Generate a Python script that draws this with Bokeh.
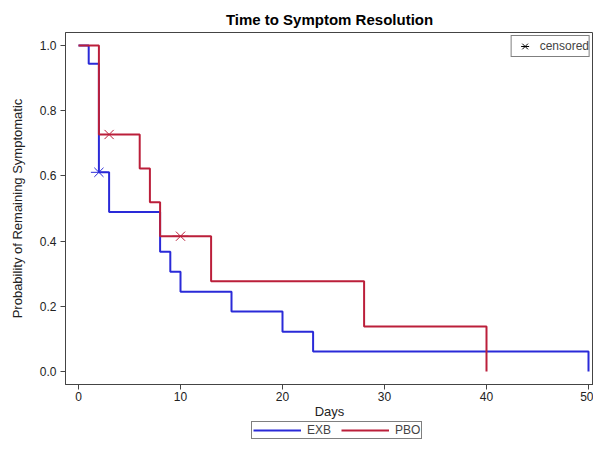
from bokeh.plotting import figure
from bokeh.layouts import column
from bokeh.models import Legend, LegendItem, Range1d, FixedTicker, PrintfTickFormatter
from bokeh.embed import file_html
from bokeh.resources import INLINE

# EXB (blue) Kaplan-Meier steps
exb_time = [0, 1, 2, 3, 8, 9, 10, 15, 20, 23, 50]
exb_surv = [1.0, 0.944, 0.611, 0.489, 0.367, 0.306, 0.245, 0.184, 0.122, 0.061, 0.0]
exb_cens_time = [2]
exb_cens_surv = [0.611]

# PBO (red) Kaplan-Meier steps
pbo_time = [0, 2, 6, 7, 8, 13, 28, 40]
pbo_surv = [1.0, 0.727, 0.623, 0.519, 0.415, 0.277, 0.138, 0.0]
pbo_cens_time = [3, 10]
pbo_cens_surv = [0.727, 0.415]

groups = ["EXB", "PBO"]
x_ticks = [0, 10, 20, 30, 40, 50]
y_ticks = [0.0, 0.2, 0.4, 0.6, 0.8, 1.0]

BLUE = "#2a2ad8"
RED = "#bb1f3a"
FONT = "Liberation Sans"

p = figure(width=593, height=421, output_backend="svg", toolbar_location=None,
           x_range=Range1d(-1.275, 50.49), y_range=Range1d(-0.0399, 1.0399),
           min_border_left=65, min_border_right=0, min_border_top=32, min_border_bottom=37)

p.title.text = "Time to Symptom Resolution"
p.title.align = "center"
p.title.text_font = FONT
p.title.text_font_size = "15px"
p.title.text_font_style = "bold"
p.title.text_color = "black"
p.title.offset = 0
p.title.standoff = 10

p.grid.visible = False
p.outline_line_color = "#444444"
p.background_fill_color = "white"
p.border_fill_color = "white"

for ax in (p.xaxis[0], p.yaxis[0]):
    ax.major_label_text_font = FONT
    ax.major_label_text_font_size = "12px"
    ax.major_label_text_color = "#222222"
    ax.axis_label_text_font = FONT
    ax.axis_label_text_font_size = "13px"
    ax.axis_label_text_font_style = "normal"
    ax.axis_label_text_color = "#222222"
    ax.axis_line_color = "#444444"
    ax.major_tick_line_color = "#444444"
    ax.major_tick_in = 0
    ax.major_tick_out = 5
    ax.minor_tick_line_color = None

p.xaxis.ticker = FixedTicker(ticks=x_ticks)
p.yaxis.ticker = FixedTicker(ticks=y_ticks)
p.yaxis.formatter = PrintfTickFormatter(format="%.1f")
p.xaxis.axis_label = "Days"
p.yaxis.axis_label = "Probability of Remaining Symptomatic"
p.xaxis.major_label_standoff = 2
p.xaxis.axis_label_standoff = 0
p.yaxis.major_label_standoff = 4
p.yaxis.axis_label_standoff = 12

p.step(exb_time, exb_surv, mode="after", line_color=BLUE, line_width=2)
p.step(pbo_time, pbo_surv, mode="after", line_color=RED, line_width=2)

p.scatter(exb_cens_time, exb_cens_surv, marker="x", size=13, line_color=BLUE, line_width=1)
p.scatter(exb_cens_time, exb_cens_surv, marker="dash", size=16, line_color=BLUE, line_width=1)
p.scatter(pbo_cens_time, pbo_cens_surv, marker="x", size=13, line_color=RED, line_width=1)
p.scatter(pbo_cens_time, pbo_cens_surv, marker="dash", size=16, line_color=RED, line_width=1)

# legend key glyphs for censored (drawn outside the visible data range)
k_x = p.scatter([-100], [-100], marker="x", size=13, line_color="black", line_width=1)
k_d = p.scatter([-100], [-100], marker="dash", size=16, line_color="black", line_width=1)

cens_legend = Legend(items=[LegendItem(label="censored", renderers=[k_x, k_d])],
                     location="top_right")
cens_legend.label_text_font = FONT
cens_legend.label_text_font_size = "12px"
cens_legend.border_line_color = "black"
cens_legend.border_line_width = 1
cens_legend.padding = 0
cens_legend.margin = 3
cens_legend.spacing = 0
cens_legend.glyph_width = 26
cens_legend.glyph_height = 20
cens_legend.label_standoff = 2
cens_legend.label_height = 20
p.add_layout(cens_legend)

# group legend in a thin strip below the chart
lg = figure(width=593, height=19, output_backend="svg", toolbar_location=None,
            x_range=Range1d(0, 1), y_range=Range1d(0, 1),
            x_axis_location=None, y_axis_location=None,
            min_border_left=0, min_border_right=0, min_border_top=0, min_border_bottom=0)
lg.grid.visible = False
lg.outline_line_color = None
lg.border_fill_color = "white"
r_exb = lg.line([-100, -99], [-100, -99], line_color=BLUE, line_width=2)
r_pbo = lg.line([-100, -99], [-100, -99], line_color=RED, line_width=2)

grp_legend = Legend(items=[LegendItem(label=groups[0], renderers=[r_exb]),
                           LegendItem(label=groups[1], renderers=[r_pbo])],
                    orientation="horizontal", location=(186, 1))
grp_legend.label_text_font = FONT
grp_legend.label_text_font_size = "12px"
grp_legend.border_line_color = "black"
grp_legend.border_line_width = 1
grp_legend.padding = 1
grp_legend.margin = 0
grp_legend.spacing = 10
grp_legend.glyph_width = 48
grp_legend.glyph_height = 12
grp_legend.label_standoff = 6
grp_legend.label_height = 12
lg.add_layout(grp_legend)

layout = column(p, lg, spacing=0)
open("out.html", "w").write(file_html(layout, INLINE))
